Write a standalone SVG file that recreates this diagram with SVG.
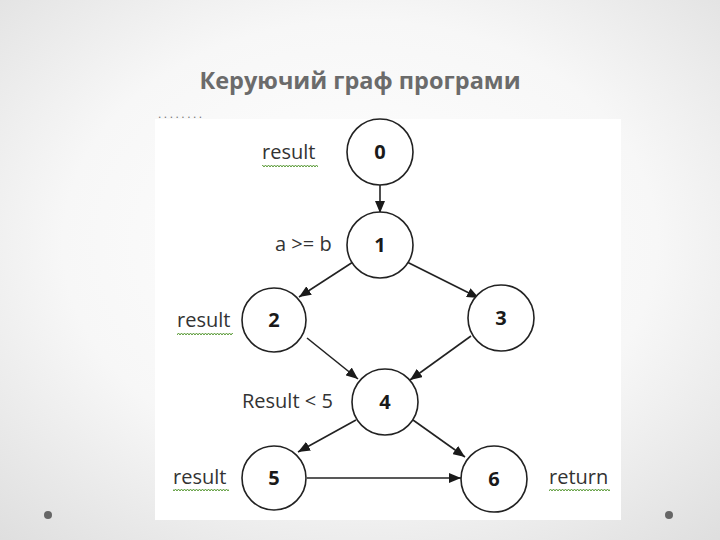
<svg xmlns="http://www.w3.org/2000/svg" width="720" height="540" viewBox="0 0 720 540">
<defs>
  <radialGradient id="bg" cx="50%" cy="45%" r="75%">
    <stop offset="0" stop-color="#ffffff"/>
    <stop offset="0.55" stop-color="#f7f7f7"/>
    <stop offset="1" stop-color="#dedede"/>
  </radialGradient>
  <marker id="arr" viewBox="0 0 12 10" refX="12" refY="5" markerWidth="12" markerHeight="10" markerUnits="userSpaceOnUse" orient="auto">
    <path d="M0,0 L12,5 L0,10 Z" fill="#1a1a1a"/>
  </marker>
  <pattern id="wave" width="6" height="4" patternUnits="userSpaceOnUse">
    <path d="M0,3 L1.5,1 L3,3 L4.5,1 L6,3" fill="none" stroke="#5a9a38" stroke-width="1"/>
  </pattern>
</defs>
<style>
  .title { font-family: "Open Sans", "DejaVu Sans", sans-serif; font-weight: bold; font-size: 23.5px; fill: #6b6b6b; }
  .node circle { fill: #ffffff; stroke: #222222; stroke-width: 1.6; }
  .node text { font-family: "Open Sans", "Liberation Sans", sans-serif; font-weight: bold; font-size: 20px; fill: #1a1a1a; text-anchor: middle; }
  .lbl { font-family: "Open Sans", "Liberation Sans", sans-serif; font-size: 20px; fill: #333333; }
  .edges line { stroke: #222222; stroke-width: 1.6; marker-end: url(#arr); }
  .sq { fill: url(#wave); }
</style>
<rect x="0" y="0" width="720" height="540" fill="url(#bg)"/>
<text class="title" x="360" y="89" text-anchor="middle">Керуючий граф програми</text>
<rect x="155" y="119" width="466" height="401" fill="#ffffff"/>
<text x="158" y="118" font-family="Liberation Sans, sans-serif" font-size="12" letter-spacing="2.5" fill="#777777">........</text>

<g class="edges">
  <line x1="380" y1="184" x2="380" y2="213"/>
  <line x1="353" y1="262" x2="299" y2="297"/>
  <line x1="407" y1="262" x2="479" y2="298"/>
  <line x1="307" y1="338" x2="358" y2="379"/>
  <line x1="471" y1="336" x2="410" y2="380"/>
  <line x1="356" y1="420" x2="298" y2="452"/>
  <line x1="413" y1="420" x2="465" y2="457"/>
  <line x1="307" y1="478" x2="461" y2="478"/>
</g>

<g id="node0" class="node"><circle cx="380" cy="152" r="33"/><text x="380" y="159">0</text></g>
<g id="node1" class="node"><circle cx="380" cy="245" r="33"/><text x="380" y="252">1</text></g>
<g id="node2" class="node"><circle cx="274" cy="320" r="32"/><text x="274" y="327">2</text></g>
<g id="node3" class="node"><circle cx="501" cy="318" r="33"/><text x="501" y="325">3</text></g>
<g id="node4" class="node"><circle cx="385" cy="402" r="33"/><text x="385" y="409">4</text></g>
<g id="node5" class="node"><circle cx="274" cy="478" r="32"/><text x="274" y="485">5</text></g>
<g id="node6" class="node"><circle cx="494" cy="479" r="33"/><text x="494" y="486">6</text></g>

<g id="labels">
  <text class="lbl" x="262" y="159">result</text>
  <rect class="sq" x="262" y="163" width="56" height="4"/>
  <text class="lbl" x="275" y="251">a &gt;= b</text>
  <text class="lbl" x="177" y="327">result</text>
  <rect class="sq" x="177" y="331" width="56" height="4"/>
  <text class="lbl" x="242" y="408">Result &lt; 5</text>
  <text class="lbl" x="173" y="484">result</text>
  <rect class="sq" x="173" y="488" width="56" height="4"/>
  <text class="lbl" x="549" y="484">return</text>
  <rect class="sq" x="549" y="488" width="61" height="4"/>
</g>

<circle cx="48" cy="515" r="4" fill="#666666"/>
<circle cx="669" cy="515" r="4" fill="#666666"/>
</svg>
